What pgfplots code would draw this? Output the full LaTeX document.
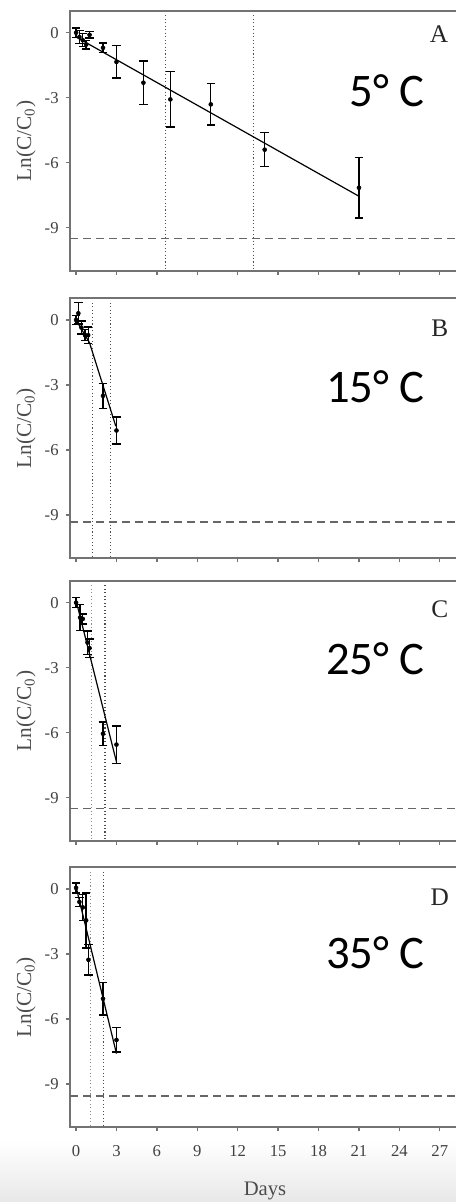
\documentclass[border=0pt]{standalone}
\usepackage{pgfplots}
\usepackage{pgfplotstable}
\pgfplotsset{compat=1.18}
\usepackage{fontspec}
\setmainfont{Liberation Serif}
\newfontfamily\calibri{Carlito}

% ---- data (x = days, y = ln(C/C0), e = error) ----
\pgfplotstableread{
x y e
0 0 0.22
0.25 -0.2 0.3
0.5 -0.35 0.3
0.75 -0.55 0.2
1 -0.1 0.15
2 -0.7 0.23
3 -1.35 0.75
5 -2.31 1.0
7 -3.08 1.28
10 -3.31 0.95
14 -5.4 0.78
21 -7.16 1.4
}\dataA
\pgfplotstableread{
x y e
0 0 0.21
0.17 0.31 0.5
0.4 -0.35 0.3
0.67 -0.7 0.25
0.9 -0.7 0.37
2 -3.5 0.57
3 -5.1 0.63
}\dataB
\pgfplotstableread{
x y e
0 0 0.23
0.3 -0.69 0.6
0.5 -0.75 0.23
0.85 -1.84 0.54
1 -2.1 0.42
2 -6.05 0.55
3 -6.55 0.86
}\dataC
\pgfplotstableread{
x y e
0 0.05 0.23
0.25 -0.6 0.2
0.5 -0.85 0.6
0.75 -1.45 1.27
0.92 -3.27 0.7
2 -5.07 0.75
3 -6.97 0.56
}\dataD

\tikzset{
  lett/.style={inner sep=0, text=black!85, font=\fontsize{19}{21}\selectfont},
  temp/.style={anchor=east, inner sep=0, font=\calibri\fontsize{35}{40}\selectfont},
}

\pgfplotsset{
  panel/.style={
    scale only axis, width=292.5pt, height=195pt,
    xmin=-0.45, xmax=28.5, ymin=-11, ymax=1,
    xtick={0,3,...,27}, ytick={0,-3,-6,-9},
    xtick pos=left, ytick pos=left, tick align=outside,
    major tick length=3pt,
    axis line style={black!55, line width=1.4pt},
    every tick/.style={black!55, line width=1pt},
    /pgf/number format/assume math mode=true,
    tick label style={font=\fontsize{12.5}{14}\selectfont, text=black!75},
    yticklabel style={xshift=-2pt},
    xticklabel style={yshift=-7pt},
    ylabel={Ln(C/C\textsubscript{0})},
    ylabel style={at={(axis description cs:-0.1128,0.5)}, anchor=center,
      font=\fontsize{16}{18}\selectfont, text=black!70},
    clip=false,
  },
  pts/.style={black, only marks, mark=*, mark size=1.5pt,
    error bars/.cd, y dir=both, y explicit,
    error bar style={line width=1pt, black},
    error mark options={rotate=90, mark size=3.2pt, line width=1pt, black}},
  fit/.style={black, line width=0.9pt, no marks},
  lod/.style={black!60, line width=1.3pt, dash pattern=on 6pt off 3.75pt, no marks},
  dot/.style={black!70, line width=0.8pt, dash pattern=on 0.8pt off 1.8pt, no marks},
}

\begin{document}
\begin{tikzpicture}
\path[use as bounding box] (-52.5pt,8.25pt) rectangle (289.5pt,-893.25pt);
\shade[top color=white, bottom color=black!9] (-52.5pt,-846.75pt) rectangle (289.5pt,-893.25pt);

% ---------- A: 5 C ----------
\begin{axis}[panel, at={(0pt,0pt)}, anchor=north west, xticklabels={}]
\addplot[dot] coordinates {(6.65,0.8) (6.65,-11)};
\addplot[dot] coordinates {(13.15,0.8) (13.15,-11)};
\addplot[lod] coordinates {(-0.45,-9.5) (28.5,-9.5)};
\addplot[fit] coordinates {(0,-0.2) (21,-7.55)};
\addplot[pts] table[x=x, y=y, y error=e] {\dataA};
\node[lett] at (axis cs:26.95,-0.05) {A};
\node[temp] at (axis cs:25.9,-2.7) {5° C};
\end{axis}

% ---------- B: 15 C ----------
\begin{axis}[panel, at={(0pt,-215.5pt)}, anchor=north west, xticklabels={}]
\addplot[dot] coordinates {(1.21,0.8) (1.21,-11)};
\addplot[dot] coordinates {(2.57,0.8) (2.57,-11)};
\addplot[lod] coordinates {(-0.45,-9.33) (28.5,-9.33)};
\addplot[fit] coordinates {(0,0) (1,-1.05) (2.95,-4.9)};
\addplot[pts] table[x=x, y=y, y error=e] {\dataB};
\node[lett] at (axis cs:27.0,-0.4) {B};
\node[temp] at (axis cs:25.9,-3.1) {15° C};
\end{axis}

% ---------- C: 25 C ----------
\begin{axis}[panel, at={(0pt,-427.5pt)}, anchor=north west, xticklabels={}]
\addplot[dot, black!45] coordinates {(1.16,0.8) (1.16,-11)};
\addplot[dot] coordinates {(2.15,0.8) (2.15,-11)};
\addplot[lod] coordinates {(-0.45,-9.5) (28.5,-9.5)};
\addplot[fit] coordinates {(0,0.1) (3,-7.35)};
\addplot[pts] table[x=x, y=y, y error=e] {\dataC};
\node[lett] at (axis cs:27.0,-0.3) {C};
\node[temp] at (axis cs:25.9,-2.6) {25° C};
\end{axis}

% ---------- D: 35 C ----------
\begin{axis}[panel, at={(0pt,-642.2pt)}, anchor=north west,
  xlabel={Days},
  xlabel style={at={(axis description cs:0.5,-0.2435)}, anchor=center,
    font=\fontsize{15.5}{17}\selectfont, text=black!70}]
\addplot[dot, black!45] coordinates {(1.04,0.8) (1.04,-11)};
\addplot[dot] coordinates {(2.03,0.8) (2.03,-11)};
\addplot[lod] coordinates {(-0.45,-9.55) (28.5,-9.55)};
\addplot[fit] coordinates {(0,0.1) (3,-7.6)};
\addplot[pts] table[x=x, y=y, y error=e] {\dataD};
\node[lett] at (axis cs:27.0,-0.37) {D};
\node[temp] at (axis cs:25.9,-2.95) {35° C};
\end{axis}
\end{tikzpicture}
\end{document}
